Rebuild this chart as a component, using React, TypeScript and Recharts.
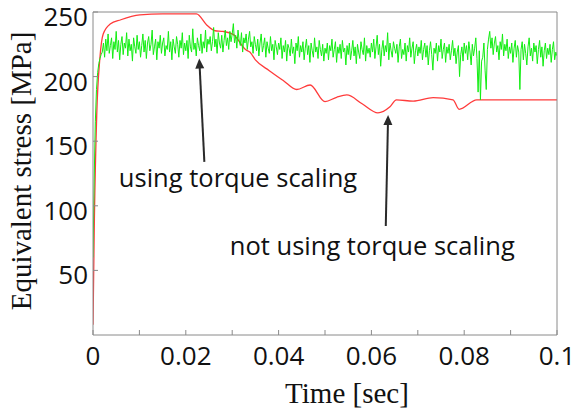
import React from "react";
import {
  LineChart,
  Line,
  XAxis,
  YAxis,
  ReferenceLine,
  ReferenceDot,
} from "recharts";

document.body.style.margin = "0";

const RED = "#ff3b3b";
const GREEN = "#12ee12";
const AXIS = "#8a8a8a";
const INK = "#111";
const SANS = "'Open Sans', sans-serif";
const SERIF = "'Liberation Serif', 'Times New Roman', serif";

const X_TICKS = [0, 0.01, 0.02, 0.03, 0.04, 0.05, 0.06, 0.07, 0.08, 0.09, 0.1];
const Y_TICKS = [50, 100, 150, 200, 250];

// not using torque scaling
const RED_T = [
  0, 0.0003, 0.0008, 0.0015, 0.0022, 0.0037, 0.006, 0.0101, 0.015, 0.0223,
  0.0245, 0.0263, 0.028, 0.0302, 0.033, 0.0338, 0.035, 0.038, 0.041, 0.0439,
  0.0468, 0.05, 0.0525, 0.0547, 0.058, 0.0614, 0.064, 0.0654, 0.069, 0.0733,
  0.0776, 0.0789, 0.0827, 0.1,
];
const RED_V = [
  8, 90, 170, 215, 233, 240.7, 244, 247.7, 248.5, 248.5,
  240, 235.5, 235, 232.7, 220.6, 219, 213, 204.6, 197, 190,
  193.5, 180.6, 184, 185.8, 179, 172, 176.7, 182, 181, 183.7,
  182, 174.7, 182, 182,
];

// using torque scaling, sampled every 0.00025 s
const GREEN_STEP = 0.00025;
const GREEN_V = [
  60, 120, 165, 190, 203, 210, 214, 217, 219,
  226, 215, 229, 220, 233, 218, 224, 230, 214, 227, 221, 235,
  219, 228, 213, 225, 231, 217, 226, 222, 234, 216, 229, 220, 225, 212, 230, 223, 218, 232, 221, 227,
  215, 224, 233, 219, 228, 214, 226, 231, 220, 225, 236, 217, 223, 229, 213, 227, 222, 232, 218, 226,
  230, 216, 224, 221, 235, 219, 227, 213, 229, 223, 218, 231, 225, 215, 228, 222, 234, 217, 226, 220,
  228, 214, 232, 223, 219, 237, 221, 226, 216, 230, 224, 220, 233, 218, 227, 222, 236, 219, 229, 225,
  231, 220, 227, 238, 223, 229, 218, 234, 226, 222, 232, 219, 228, 236, 224, 230, 221, 235, 227, 233,
  241, 226, 232, 222, 236, 228, 224, 234, 219, 230, 226, 233, 221, 229, 235, 223, 227, 218, 231, 225,
  220, 229, 216, 226, 233, 219, 224, 230, 215, 227, 222, 218, 231, 220, 225, 213, 228, 223, 217, 226,
  221, 230, 214, 224, 219, 228, 212, 225, 222, 216, 229, 218, 223, 210, 226, 220, 231, 215, 224, 219,
  227, 213, 222, 229, 217, 224, 211, 226, 220, 215, 230, 219, 223, 214, 228, 221, 216, 225, 212, 222,
  218, 226, 213, 224, 220, 229, 215, 221, 227, 211, 223, 218, 225, 214, 228, 219, 222, 209, 224, 217,
  226, 213, 220, 228, 216, 223, 210, 225, 219, 214, 227, 221, 217, 230, 212, 224, 218, 222, 215, 226,
  219, 229, 214, 223, 232, 217, 225, 208, 221, 228, 216, 224, 219, 234, 213, 226, 220, 215, 227, 222,
  218, 225, 211, 223, 229, 214, 221, 217, 226, 212, 224, 219, 230, 215, 222, 227, 210, 220, 225, 216,
  223, 218, 228, 213, 221, 226, 215, 224, 209, 220, 227, 217, 205, 222, 218, 226, 212, 224, 219, 229,
  214, 221, 226, 211, 223, 218, 225, 213, 220, 228, 216, 222, 210, 219, 224, 200, 217, 223, 212, 226,
  218, 224, 213, 227, 219, 209, 225, 216, 222, 230, 214, 188, 220, 182, 212, 215, 226, 205, 190, 221,
  229, 235, 222, 230, 217, 226, 231, 219, 224, 213, 227, 221, 233, 216, 225, 220, 229, 214, 223, 218,
  226, 211, 222, 228, 215, 224, 219, 190, 221, 227, 213, 225, 218, 209, 223, 230, 216, 222, 212, 226,
  219, 224, 210, 221, 228, 215, 223, 208, 220, 226, 214, 222, 217, 225, 211, 221, 227, 213, 219, 216,
];

const redData = RED_T.map((t, i) => ({ t, v: RED_V[i] }));
const greenData = GREEN_V.map((v, i) => ({ t: +(i * GREEN_STEP).toFixed(5), v }));

const fmt = (v: number) => String(Number(v.toFixed(2)));

function BottomTick({ x, y, payload, index }: any) {
  return (
    <g>
      <line x1={x} y1={y} x2={x} y2={y - 5} stroke={AXIS} />
      {index % 2 === 0 && (
        <text x={x} y={y + 30} textAnchor="middle" fontFamily={SANS} fontSize={26} fill={INK}>
          {fmt(payload.value)}
        </text>
      )}
    </g>
  );
}

function TopTick({ x, y }: any) {
  return <line x1={x} y1={y} x2={x} y2={y + 5} stroke={AXIS} />;
}

function LeftTick({ x, y, payload }: any) {
  return (
    <g>
      <line x1={x} y1={y} x2={x + 5} y2={y} stroke={AXIS} />
      <text x={x - 5} y={y + 14} textAnchor="end" fontFamily={SANS} fontSize={26} fill={INK}>
        {payload.value}
      </text>
    </g>
  );
}

function RightTick({ x, y }: any) {
  return <line x1={x} y1={y} x2={x - 5} y2={y} stroke={AXIS} />;
}

function Arrow({ x1, y1, x2, y2 }: any) {
  const dx = x2 - x1;
  const dy = y2 - y1;
  const len = Math.hypot(dx, dy) || 1;
  const ux = dx / len;
  const uy = dy / len;
  const hl = 10;
  const hw = 4.5;
  const bx = x2 - ux * hl;
  const by = y2 - uy * hl;
  return (
    <g>
      <line x1={x1} y1={y1} x2={bx + ux * 2} y2={by + uy * 2} stroke="#2a2a2a" strokeWidth={2} />
      <polygon
        points={`${x2},${y2} ${bx - uy * hw},${by + ux * hw} ${bx + uy * hw},${by - ux * hw}`}
        fill="#2a2a2a"
      />
    </g>
  );
}

const note = (text: string) => (p: any) =>
  (
    <text x={p.cx} y={p.cy} textAnchor="middle" fontFamily={SANS} fontSize={25.5} fill={INK}>
      {text}
    </text>
  );

export default function App() {
  return (
    <LineChart width={574} height={414} margin={{ top: 0, right: 0, bottom: 0, left: 0 }}>
      <XAxis
        dataKey="t"
        type="number"
        domain={[0, 0.1]}
        ticks={X_TICKS}
        interval={0}
        height={79}
        tickSize={0}
        tickMargin={0}
        tickLine={false}
        axisLine={{ stroke: AXIS }}
        tick={<BottomTick />}
        allowDataOverflow
        label={{
          content: () => (
            <text x={347} y={403} textAnchor="middle" fontFamily={SERIF} fontSize={29} fill={INK}>
              Time [sec]
            </text>
          ),
        }}
      />
      <XAxis
        xAxisId="top"
        orientation="top"
        type="number"
        domain={[0, 0.1]}
        ticks={X_TICKS}
        interval={0}
        height={12}
        tickSize={0}
        tickMargin={0}
        tickLine={false}
        axisLine={{ stroke: AXIS }}
        tick={<TopTick />}
      />
      <YAxis
        type="number"
        domain={[0, 250]}
        ticks={Y_TICKS}
        interval={0}
        width={93}
        tickSize={0}
        tickMargin={0}
        tickLine={false}
        axisLine={{ stroke: AXIS }}
        tick={<LeftTick />}
        allowDataOverflow
        label={{
          content: () => (
            <text
              transform="translate(31,171) rotate(-90)"
              textAnchor="middle"
              fontFamily={SERIF}
              fontSize={29}
              fill={INK}
            >
              Equivalent stress [MPa]
            </text>
          ),
        }}
      />
      <YAxis
        yAxisId="right"
        orientation="right"
        type="number"
        domain={[0, 250]}
        ticks={Y_TICKS}
        interval={0}
        width={17}
        tickSize={0}
        tickMargin={0}
        tickLine={false}
        axisLine={{ stroke: AXIS }}
        tick={<RightTick />}
      />
      <Line
        data={redData}
        dataKey="v"
        type="monotone"
        stroke={RED}
        strokeWidth={1.3}
        dot={false}
        isAnimationActive={false}
      />
      <Line
        data={greenData}
        dataKey="v"
        type="linear"
        stroke={GREEN}
        strokeWidth={1}
        dot={false}
        isAnimationActive={false}
      />
      <ReferenceLine
        segment={[
          { x: 0.024, y: 134 },
          { x: 0.0229, y: 214 },
        ]}
        shape={Arrow}
      />
      <ReferenceLine
        segment={[
          { x: 0.0631, y: 84.4 },
          { x: 0.0636, y: 170.3 },
        ]}
        shape={Arrow}
      />
      <ReferenceDot x={0.03125} y={114.6} r={0} shape={note("using torque scaling")} />
      <ReferenceDot x={0.0602} y={61.9} r={0} shape={note("not using torque scaling")} />
    </LineChart>
  );
}
